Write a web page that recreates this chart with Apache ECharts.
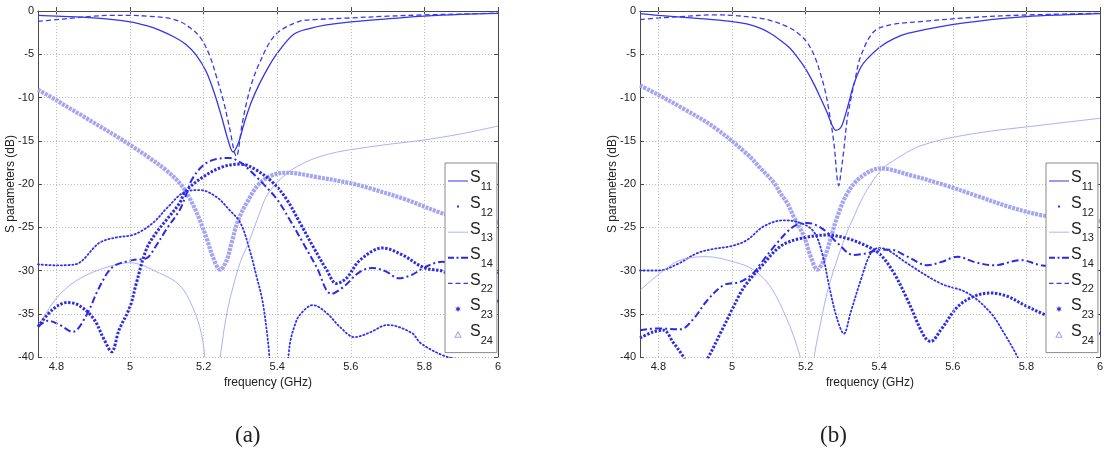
<!DOCTYPE html>
<html><head><meta charset="utf-8">
<script src="https://cdn.jsdelivr.net/npm/echarts@6/dist/echarts.min.js"></script>
<style>html,body{margin:0;padding:0;background:#fff}#c{width:1113px;height:455px}</style>
</head><body><div id="c"></div>
<script>
// ---------- data ----------
const xTicks = [4.8, 5.0, 5.2, 5.4, 5.6, 5.8, 6.0];
const yTicks = [0, -5, -10, -15, -20, -25, -30, -35, -40];
const seriesNames = ['S11', 'S12', 'S13', 'S14', 'S22', 'S23', 'S24'];
const captions = ['(a)', '(b)'];
const xTitle = 'frequency (GHz)';
const yTitle = 'S parameters (dB)';

// panel (a): [frequency GHz, dB]
const a_S11 = [[4.75,-0.5],[4.8,-0.6],[4.9,-0.8],[5.0,-1.25],[5.05,-1.75],[5.08,-2.2],[5.12,-3.0],[5.153,-3.9],[5.18,-5.1],[5.207,-7.0],[5.23,-9.6],[5.25,-12.4],[5.265,-14.7],[5.28,-16.3],[5.295,-15.2],[5.31,-13],[5.33,-10.5],[5.352,-8.4],[5.38,-6.2],[5.40,-4.9],[5.445,-2.7],[5.49,-2],[5.534,-1.6],[5.6,-1.25],[5.716,-0.85],[5.8,-0.6],[5.9,-0.4],[6.0,-0.27]];
const a_S12 = [[4.75,-29.3],[4.8,-29.4],[4.85,-29.3],[4.917,-26.8],[4.96,-26.2],[5.007,-25.9],[5.04,-25.2],[5.07,-24.2],[5.1,-22.8],[5.15,-20.9],[5.19,-20.7],[5.235,-21.5],[5.27,-23],[5.3,-24.5],[5.325,-27.6],[5.344,-30.7],[5.36,-33.5],[5.375,-38.2],[5.395,-46],[5.415,-46],[5.434,-38.6],[5.448,-36.3],[5.462,-35.1],[5.497,-34],[5.534,-34.9],[5.57,-36.5],[5.61,-37.7],[5.65,-37.2],[5.70,-36.3],[5.765,-37.2],[5.79,-38.4],[5.85,-39.8],[5.9,-40.3],[6.0,-40.5]];
const a_S13 = [[4.75,-36.5],[4.8,-33.2],[4.85,-31.3],[4.917,-29.9],[5.0,-29.1],[5.08,-30.3],[5.135,-31.7],[5.17,-34.2],[5.194,-37.3],[5.205,-41],[5.222,-55],[5.238,-43],[5.25,-38.5],[5.265,-34.5],[5.28,-31.9],[5.3,-29],[5.325,-26.5],[5.35,-23.6],[5.37,-21.5],[5.4,-19.8],[5.453,-18],[5.534,-16.6],[5.652,-15.7],[5.8,-14.9],[5.9,-14.2],[6.0,-13.3]];
const a_S14 = [[4.75,-36.5],[4.777,-35.8],[4.81,-36.3],[4.844,-37.1],[4.88,-35.3],[4.917,-31.9],[4.953,-29.6],[5.007,-28.8],[5.044,-28.6],[5.07,-27.2],[5.098,-25.3],[5.135,-23],[5.153,-21.2],[5.168,-19.5],[5.2,-17.8],[5.235,-17.1],[5.27,-17.0],[5.3,-17.5],[5.325,-18.4],[5.36,-19.9],[5.40,-21.8],[5.435,-24.2],[5.47,-26.8],[5.507,-29.6],[5.547,-32.7],[5.58,-31.9],[5.62,-30.3],[5.657,-29.7],[5.695,-30.1],[5.73,-30.9],[5.766,-30.5],[5.802,-29.6],[5.848,-29.0],[5.9,-29.3],[6.0,-30.3]];
const a_S22 = [[4.75,-1.2],[4.8,-1.0],[4.85,-0.8],[4.9,-0.6],[4.95,-0.5],[5.0,-0.5],[5.05,-0.6],[5.1,-0.8],[5.135,-1.2],[5.165,-2.0],[5.19,-3.0],[5.215,-5.0],[5.235,-7.6],[5.255,-10.6],[5.27,-13.4],[5.289,-16.8],[5.305,-13],[5.32,-10],[5.335,-7.8],[5.352,-6.0],[5.38,-3.6],[5.407,-2.3],[5.46,-1.2],[5.5,-1.0],[5.6,-0.8],[5.7,-0.6],[5.8,-0.45],[5.9,-0.35],[6.0,-0.25]];
const a_S23 = [[4.75,-36.5],[4.79,-34.5],[4.83,-33.7],[4.86,-34],[4.9,-35.5],[4.93,-38],[4.95,-39.4],[4.97,-36.9],[5.0,-34.2],[5.017,-31.5],[5.044,-27.6],[5.07,-25.7],[5.098,-24.2],[5.135,-22.2],[5.15,-20.9],[5.198,-19.2],[5.253,-18.0],[5.30,-17.7],[5.344,-18.4],[5.39,-19.9],[5.426,-21.8],[5.462,-24.5],[5.497,-27.2],[5.534,-29.9],[5.561,-31.5],[5.588,-30.9],[5.625,-28.8],[5.687,-27.4],[5.74,-28.2],[5.80,-29.7],[5.85,-30.1],[5.9,-31.3],[6.0,-33.6]];
const a_S24 = [[4.75,-9.1],[4.8,-10.3],[4.826,-11.0],[4.87,-12.1],[4.917,-13.3],[4.96,-14.4],[5.008,-15.7],[5.05,-16.9],[5.098,-18.4],[5.139,-20.1],[5.164,-21.8],[5.19,-24.2],[5.21,-26.5],[5.225,-28.4],[5.245,-29.9],[5.263,-28.8],[5.276,-26.8],[5.294,-24.2],[5.317,-22.2],[5.353,-19.9],[5.40,-18.8],[5.43,-18.7],[5.507,-19.2],[5.598,-19.9],[5.652,-20.5],[5.75,-21.8],[5.85,-23.4],[5.92,-24.0],[6.0,-24.4]];

// panel (b)
const b_S11 = [[4.75,-0.3],[4.8,-0.5],[4.905,-0.85],[4.996,-1.2],[5.04,-1.5],[5.078,-2.0],[5.105,-2.6],[5.132,-3.4],[5.155,-4.2],[5.177,-5.3],[5.2,-6.7],[5.222,-8.4],[5.24,-10],[5.259,-11.8],[5.272,-13.2],[5.282,-13.8],[5.295,-13.5],[5.304,-12.6],[5.318,-10.5],[5.33,-8.6],[5.35,-6.5],[5.368,-5.5],[5.404,-4.1],[5.44,-3.2],[5.477,-2.6],[5.567,-1.8],[5.703,-1.0],[5.8,-0.65],[5.9,-0.45],[6.0,-0.3]];
const b_S12 = [[4.75,-30],[4.8,-30],[4.85,-29.3],[4.905,-28],[4.95,-27.5],[4.996,-27.2],[5.04,-26.5],[5.086,-24.9],[5.14,-24.2],[5.186,-24.5],[5.222,-25.5],[5.245,-28],[5.265,-32],[5.285,-35.5],[5.304,-37.3],[5.322,-34.9],[5.35,-31.1],[5.377,-28],[5.40,-27.4],[5.422,-27.6],[5.477,-29.2],[5.567,-31.5],[5.64,-32.6],[5.703,-34.9],[5.74,-37.3],[5.776,-40],[5.82,-44],[5.9,-48],[6.0,-50]];
const b_S13 = [[4.75,-32.3],[4.805,-30.3],[4.86,-28.8],[4.932,-28.4],[5.004,-29.0],[5.058,-29.9],[5.105,-31.9],[5.15,-35.7],[5.177,-38.8],[5.19,-41],[5.205,-50],[5.22,-41],[5.241,-36],[5.259,-32.5],[5.276,-30],[5.295,-27.6],[5.313,-25.5],[5.331,-23.8],[5.35,-22],[5.377,-20],[5.41,-18.2],[5.45,-17],[5.5,-15.8],[5.55,-15.1],[5.6,-14.6],[5.7,-13.9],[5.8,-13.4],[5.9,-12.9],[6.0,-12.4]];
const b_S14 = [[4.75,-36.9],[4.8,-36.7],[4.86,-36.8],[4.895,-35.6],[4.932,-33.5],[4.977,-31.7],[5.023,-31.3],[5.058,-30.3],[5.078,-29.2],[5.123,-26.8],[5.168,-24.9],[5.205,-24.5],[5.25,-25.3],[5.286,-26.8],[5.33,-28.2],[5.368,-28.0],[5.4,-27.6],[5.431,-27.6],[5.477,-28.4],[5.531,-29.4],[5.57,-29],[5.613,-28.4],[5.657,-29.0],[5.712,-29.4],[5.785,-28.8],[5.84,-29.4],[5.9,-29.6],[6.0,-30.0]];
const b_S22 = [[4.75,-1.0],[4.8,-0.8],[4.86,-0.65],[4.95,-0.45],[5.0,-0.5],[5.05,-0.7],[5.096,-1.0],[5.15,-1.8],[5.18,-2.6],[5.205,-3.7],[5.225,-5.3],[5.24,-7.2],[5.253,-9.2],[5.263,-11.4],[5.277,-15.3],[5.286,-19.5],[5.29,-20.2],[5.295,-19],[5.304,-16],[5.313,-12.5],[5.322,-10.4],[5.335,-7.8],[5.35,-5.2],[5.385,-2.4],[5.431,-1.6],[5.52,-1.2],[5.657,-0.73],[5.8,-0.46],[6.0,-0.27]];
const b_S23 = [[4.75,-37.8],[4.786,-37.1],[4.814,-36.9],[4.84,-38.3],[4.868,-40],[4.9,-42.5],[4.936,-40],[4.969,-37.2],[4.996,-34.9],[5.023,-32.6],[5.04,-31.5],[5.078,-29.6],[5.132,-27.2],[5.186,-26.3],[5.259,-25.9],[5.313,-26.3],[5.368,-27.2],[5.404,-28.2],[5.44,-30.3],[5.477,-33.4],[5.522,-37.6],[5.54,-38.2],[5.567,-36.9],[5.613,-34.2],[5.657,-33.0],[5.703,-32.6],[5.749,-33.0],[5.794,-34.0],[5.85,-35.1],[5.9,-36],[6.0,-37.3]];
const b_S24 = [[4.75,-8.6],[4.8,-9.7],[4.86,-11.1],[4.95,-13.4],[5.04,-16.5],[5.078,-18.2],[5.113,-19.8],[5.132,-21.1],[5.15,-22.2],[5.168,-23.8],[5.196,-26.1],[5.214,-28.4],[5.232,-29.9],[5.245,-29.2],[5.259,-27.6],[5.272,-25.7],[5.286,-23.8],[5.313,-21.1],[5.35,-19.2],[5.404,-18.2],[5.486,-19.0],[5.576,-20.1],[5.667,-21.4],[5.75,-22.6],[5.84,-23.6],[5.92,-24.0],[6.0,-24.3]];

const panelData = [
  [a_S11, a_S12, a_S13, a_S14, a_S22, a_S23, a_S24],
  [b_S11, b_S12, b_S13, b_S14, b_S22, b_S23, b_S24]
];

// ---------- styles ----------
const FONT = 'Liberation Sans, Arial, sans-serif';
const AXIS = '#4a4a4a';
const GRIDC = '#bdbdbd';
const styles = {
  S11: {color: '#3535ee', width: 1.3, type: 'solid'},
  S12: {color: '#3030f0', width: 1.8, type: [1.2, 2.6], cap: 'round'},
  S13: {color: '#9a9af8', width: 0.8, type: 'solid'},
  S14: {color: '#2a2ae8', width: 2.0, type: [7, 3, 2, 3]},
  S22: {color: '#3a3aee', width: 1.3, type: [5, 3]},
  S23: {color: '#2c2ce4', width: 3.0, type: [2.4, 1.6]},
  S24: {color: '#a4a4f4', width: 4.2, type: [3, 1]}
};

// legend icons (20 x 12 box, corner anchors keep the scale)
function icon(shapes) {
  return 'path://M0,0 L0.01,0 L0,0.01 Z M20,12 L19.99,12 L20,11.99 Z ' + shapes;
}
function rect(x, y, w, h) { return 'M' + x + ',' + y + ' h' + w + ' v' + h + ' h' + (-w) + ' Z '; }
function star(cx, cy, ro, ri, n) {
  let s = '';
  for (let i = 0; i < 2 * n; i++) {
    const r = i % 2 ? ri : ro, a = Math.PI / 2 + i * Math.PI / n;
    s += (i ? 'L' : 'M') + (cx + r * Math.cos(a)).toFixed(2) + ',' + (cy - r * Math.sin(a)).toFixed(2) + ' ';
  }
  return s + 'Z ';
}
const icons = {
  S11: icon(rect(0, 5.4, 20, 1.2)),
  S12: icon(rect(9, 5, 2, 2)),
  S13: icon(rect(0, 5.6, 20, 0.8)),
  S14: icon(rect(0, 5, 6, 2) + rect(8.5, 5, 2, 2) + rect(13, 5, 7, 2)),
  S22: icon(rect(0, 5.3, 4.5, 1.4) + rect(7.5, 5.3, 5, 1.4) + rect(15.5, 5.3, 4.5, 1.4)),
  S23: icon(star(10, 6, 3.2, 1.3, 6)),
  S24: icon('M10,2.2 L13.8,9.2 L6.2,9.2 Z M10,4.4 L7.9,8.2 L12.1,8.2 Z')
};

const grids = [{left: 38, top: 11, width: 460, height: 346}, {left: 640, top: 11, width: 460, height: 346}];
const legendPos = [{left: 445, top: 163}, {left: 1046, top: 163}];

const xAxes = [], yAxes = [], series = [], legends = [], graphics = [];
grids.forEach((g, gi) => {
  const common = {
    type: 'value', gridIndex: gi, min: 4.75, max: 6,
    axisLine: {show: true, lineStyle: {color: AXIS, width: 1}},
    axisTick: {show: true, inside: true, length: 4, customValues: xTicks, lineStyle: {color: AXIS}},
    splitLine: {show: false}
  };
  xAxes.push(Object.assign({}, common, {
    position: 'bottom',
    axisLabel: {customValues: xTicks, formatter: v => String(Number(v.toFixed(2))), fontFamily: FONT, fontSize: 11, color: '#222', margin: 4},
    name: xTitle, nameLocation: 'middle', nameGap: 19,
    nameTextStyle: {fontFamily: FONT, fontSize: 12, color: '#222'}
  }));
  xAxes.push(Object.assign({}, common, {position: 'top', axisLabel: {show: false}}));
  const ycommon = {
    type: 'value', gridIndex: gi, min: -40, max: 0, interval: 5,
    axisLine: {show: true, lineStyle: {color: AXIS, width: 1}},
    axisTick: {show: true, inside: true, length: 4, lineStyle: {color: AXIS}}
  };
  yAxes.push(Object.assign({}, ycommon, {
    position: 'left',
    axisLabel: {fontFamily: FONT, fontSize: 11, color: '#222', margin: 4},
    splitLine: {show: true, lineStyle: {type: [1, 2], color: GRIDC, width: 1}},
    name: yTitle, nameLocation: 'middle', nameGap: 21, nameMoveOverlap: false,
    nameTextStyle: {fontFamily: FONT, fontSize: 12, color: '#222'}
  }));
  yAxes.push(Object.assign({}, ycommon, {position: 'right', axisLabel: {show: false}, splitLine: {show: false}}));

  // vertical grid lines
  series.push({
    type: 'line', xAxisIndex: 2 * gi, yAxisIndex: 2 * gi, data: [], silent: true, z: 1,
    markLine: {
      silent: true, symbol: ['none', 'none'], label: {show: false}, animation: false,
      lineStyle: {type: [1, 2], color: GRIDC, width: 1},
      data: xTicks.slice(0, -1).map(v => ({xAxis: v}))
    }
  });

  seriesNames.forEach((n, si) => {
    const st = styles[n];
    series.push({
      name: n, type: 'line', xAxisIndex: 2 * gi, yAxisIndex: 2 * gi,
      data: panelData[gi][si], smooth: 0.35, symbol: 'none', clip: true,
      color: st.color,
      lineStyle: {color: st.color, width: st.width, type: st.type, cap: st.cap || 'butt'},
      z: 3 + (n === 'S24' ? -1 : 0)
    });
  });

  legends.push({
    orient: 'vertical', left: legendPos[gi].left, top: legendPos[gi].top,
    padding: [6, 4, 6, 3], itemGap: 1.6, itemWidth: 20, itemHeight: 12,
    backgroundColor: '#fff', borderColor: '#8a8a8a', borderWidth: 1, borderRadius: 0,
    selectedMode: false,
    data: seriesNames.map(n => ({name: n, icon: icons[n]})),
    formatter: name => '{s|S}{n|' + name.slice(1) + '}',
    textStyle: {
      fontFamily: FONT, color: '#222', padding: [0, 0, 0, -3],
      rich: {
        s: {fontFamily: FONT, fontSize: 16, color: '#222', lineHeight: 24, height: 18, verticalAlign: 'top'},
        n: {fontFamily: FONT, fontSize: 11, color: '#222', lineHeight: 24, height: 12, verticalAlign: 'bottom'}
      }
    }
  });

  graphics.push({
    type: 'text', left: gi === 0 ? 235 : 820, top: 424,
    style: {text: captions[gi], fontFamily: 'Liberation Serif, serif', fontSize: 23, fill: '#222'}
  });
});

const chart = echarts.init(document.getElementById('c'), null, {renderer: 'canvas'});
chart.setOption({
  animation: false,
  backgroundColor: '#fff',
  grid: grids,
  xAxis: xAxes,
  yAxis: yAxes,
  legend: legends,
  series: series,
  graphic: graphics
});
</script>
</body></html>
